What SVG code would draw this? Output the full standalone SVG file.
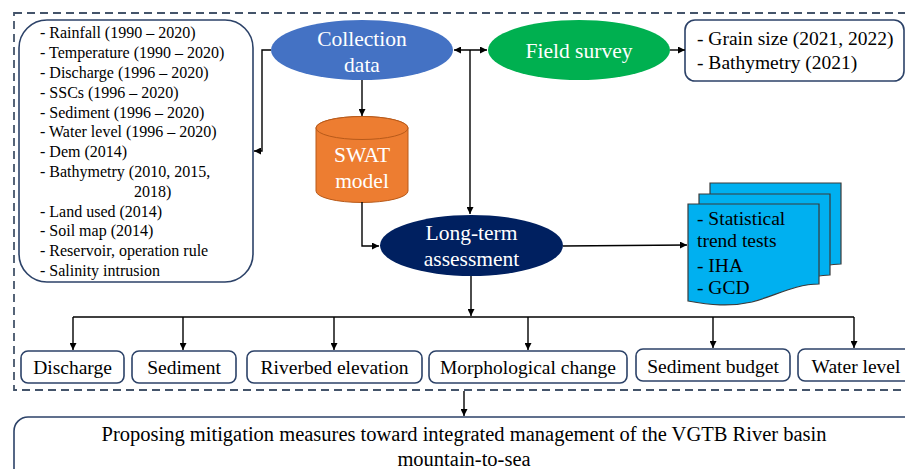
<svg xmlns="http://www.w3.org/2000/svg" width="905" height="469" viewBox="0 0 905 469">
  <defs>
    <marker id="arrow" viewBox="0 0 10 10" refX="10" refY="5" markerWidth="7" markerHeight="7" markerUnits="userSpaceOnUse" orient="auto-start-reverse">
      <path d="M0,0 L10,5 L0,10 z" fill="#000"/>
    </marker>
    <style>
      .t { font-family: "Liberation Serif", "Times New Roman", serif; fill: #000; }
      .w { font-family: "Liberation Serif", "Times New Roman", serif; fill: #fff; }
      .box { fill: #fff; stroke: #2C4268; stroke-width: 1.6; }
      .link { fill: none; stroke: #000; stroke-width: 1.4; }
      .doc { fill: #00B0F0; stroke: #3A3A3A; stroke-width: 1.2; }
    </style>
  </defs>
  <rect width="905" height="469" fill="#fff"/>

  <!-- dashed study frame -->
  <rect x="14" y="13" width="905" height="377" fill="none" stroke="#44546A" stroke-width="1.8" stroke-dasharray="8 5"/>

  <g id="input-data">
    <rect class="box" x="19" y="20" width="234" height="262" rx="28"/>
    <g class="t" font-size="16">
      <text x="40" y="38">- Rainfall (1990 – 2020)</text>
      <text x="40" y="58">- Temperature (1990 – 2020)</text>
      <text x="40" y="78">- Discharge (1996 – 2020)</text>
      <text x="40" y="98">- SSCs (1996 – 2020)</text>
      <text x="40" y="118">- Sediment (1996 – 2020)</text>
      <text x="40" y="137">- Water level (1996 – 2020)</text>
      <text x="40" y="157">- Dem (2014)</text>
      <text x="40" y="177">- Bathymetry (2010, 2015,</text>
      <text x="134" y="197">2018)</text>
      <text x="40" y="217">- Land used (2014)</text>
      <text x="40" y="236">- Soil map (2014)</text>
      <text x="40" y="256">- Reservoir, operation rule</text>
      <text x="40" y="276">- Salinity intrusion</text>
    </g>
  </g>

  <g id="collection-data">
    <ellipse cx="362" cy="50" rx="91" ry="30" fill="#4472C4"/>
    <text class="w" font-size="21.5" x="362" y="46" text-anchor="middle">Collection</text>
    <text class="w" font-size="21.5" x="362" y="72" text-anchor="middle">data</text>
  </g>

  <g id="field-survey">
    <ellipse cx="579" cy="50" rx="91" ry="30" fill="#00B050"/>
    <text class="w" font-size="21.5" x="579" y="58" text-anchor="middle">Field survey</text>
  </g>

  <g id="survey-data">
    <rect class="box" x="685" y="20" width="219" height="61" rx="10"/>
    <text class="t" font-size="19.5" x="697" y="45">- Grain size (2021, 2022)</text>
    <text class="t" font-size="19.5" x="697" y="69">- Bathymetry (2021)</text>
  </g>

  <g id="swat-model">
    <path d="M316,128 L316,191 A46,11.5 0 0 0 408,191 L408,128 A46,11.5 0 0 0 316,128 z" fill="#ED7D31" stroke="#B85A1A" stroke-width="1"/>
    <ellipse cx="362" cy="128" rx="46" ry="11.5" fill="#ED7D31" stroke="#B85A1A" stroke-width="1"/>
    <text class="w" font-size="21.5" x="362" y="162" text-anchor="middle">SWAT</text>
    <text class="w" font-size="21.5" x="362" y="188" text-anchor="middle">model</text>
  </g>

  <g id="long-term-assessment">
    <ellipse cx="471.5" cy="245.5" rx="91.5" ry="30.5" fill="#002060"/>
    <text class="w" font-size="21.5" x="471.5" y="240" text-anchor="middle">Long-term</text>
    <text class="w" font-size="21.5" x="471.5" y="266" text-anchor="middle">assessment</text>
  </g>

  <g id="methods">
    <path class="doc" d="M710,183 L841,183 L841,264 C820,264 800,272 780,275 L710,275 z"/>
    <path class="doc" d="M699,194 L830,194 L830,275 C810,275 790,283 770,286 L699,286 z"/>
    <path class="doc" d="M688,204 L819,204 L819,284 C795,284 775,296 752,302 C730,307 710,305 688,301 z"/>
    <g class="t" font-size="19.5">
      <text x="697" y="225">- Statistical</text>
      <text x="697" y="247">trend tests</text>
      <text x="697" y="272">- IHA</text>
      <text x="697" y="294">- GCD</text>
    </g>
  </g>

  <g id="out-discharge">
    <rect class="box" x="21" y="351" width="103" height="32" rx="7"/>
    <text class="t" font-size="19.5" x="72.5" y="374" text-anchor="middle">Discharge</text>
  </g>
  <g id="out-sediment">
    <rect class="box" x="132" y="351" width="104" height="32" rx="7"/>
    <text class="t" font-size="19.5" x="184" y="374" text-anchor="middle">Sediment</text>
  </g>
  <g id="out-riverbed">
    <rect class="box" x="247" y="351" width="175" height="32" rx="7"/>
    <text class="t" font-size="19.5" x="334.5" y="374" text-anchor="middle">Riverbed elevation</text>
  </g>
  <g id="out-morphology">
    <rect class="box" x="429" y="351" width="198" height="32" rx="7"/>
    <text class="t" font-size="19.5" x="528" y="374" text-anchor="middle">Morphological change</text>
  </g>
  <g id="out-budget">
    <rect class="box" x="636" y="349" width="154" height="32" rx="7"/>
    <text class="t" font-size="19.5" x="713" y="373" text-anchor="middle">Sediment budget</text>
  </g>
  <g id="out-water-level">
    <rect class="box" x="798" y="349" width="120" height="32" rx="7"/>
    <text class="t" font-size="19.5" x="856" y="373" text-anchor="middle">Water level</text>
  </g>

  <g id="mitigation">
    <rect class="box" x="14" y="417" width="905" height="80" rx="14"/>
    <text class="t" font-size="20.5" x="464" y="441" text-anchor="middle">Proposing mitigation measures toward integrated management of the VGTB River basin</text>
    <text class="t" font-size="20.5" x="464" y="466" text-anchor="middle">mountain-to-sea</text>
  </g>

  <g id="connectors">
    <!-- collection data to input list -->
    <path class="link" d="M271,50 L262,50 L262,151 L254,151" marker-end="url(#arrow)"/>
    <!-- collection data and field survey -->
    <path class="link" d="M454,50 L487,50" marker-start="url(#arrow)" marker-end="url(#arrow)"/>
    <path class="link" d="M670,50 L685,50" marker-end="url(#arrow)"/>
    <!-- down to assessment -->
    <path class="link" d="M470,50 L470,214" marker-end="url(#arrow)"/>
    <path class="link" d="M362,80 L362,116" marker-end="url(#arrow)"/>
    <path class="link" d="M362,202 L362,246 L379,246" marker-end="url(#arrow)"/>
    <!-- assessment to methods -->
    <path class="link" d="M563,246 L687,245" marker-end="url(#arrow)"/>
    <!-- assessment to outputs -->
    <path class="link" d="M471,276 L471,316" marker-end="url(#arrow)"/>
    <path class="link" d="M73,317 L854,317"/>
    <path class="link" d="M73,317 L73,350" marker-end="url(#arrow)"/>
    <path class="link" d="M183,317 L183,350" marker-end="url(#arrow)"/>
    <path class="link" d="M334,317 L334,350" marker-end="url(#arrow)"/>
    <path class="link" d="M528,317 L528,350" marker-end="url(#arrow)"/>
    <path class="link" d="M713,317 L713,348" marker-end="url(#arrow)"/>
    <path class="link" d="M854,317 L854,348" marker-end="url(#arrow)"/>
    <!-- frame to mitigation -->
    <path class="link" d="M464,391 L464,416" stroke="#44546A" marker-end="url(#arrow)"/>
  </g>
</svg>
